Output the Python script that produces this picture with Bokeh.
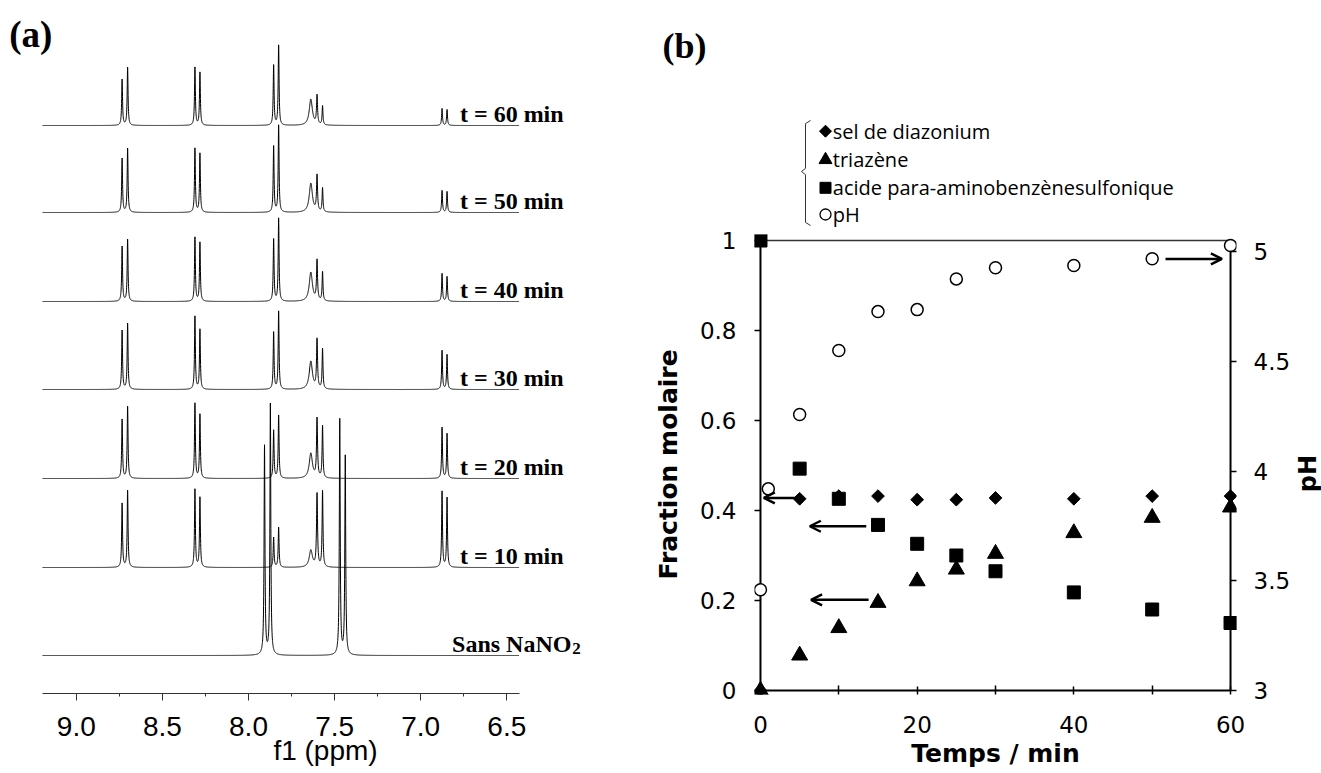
import numpy as np
from bokeh.plotting import figure
from bokeh.layouts import row, column
from bokeh.models import (Range1d, LinearAxis, FixedTicker, Arrow, OpenHead,
                          PrintfTickFormatter, CustomJSTickFormatter)
from bokeh.core.properties import value
from bokeh.embed import file_html
from bokeh.resources import INLINE

# ===================== DATA : panel (a) 1H NMR spectra =====================
# peak positions (ppm), half widths (ppm) and heights (arbitrary units)
PEAK_PPM = [8.734, 8.702, 8.311, 8.282, 7.854, 7.825, 7.638, 7.602, 7.570, 6.876, 6.847]
PEAK_HWHM = [0.003, 0.003, 0.003, 0.003, 0.003, 0.003, 0.011, 0.0035, 0.003, 0.003, 0.003]
SPEC_LABELS = ["t = 60 min", "t = 50 min", "t = 40 min", "t = 30 min", "t = 20 min", "t = 10 min"]
SPEC_OFFSET = [568, 481, 392, 304, 215, 126]
H_60 = [46, 58, 58, 53, 60, 80, 26, 29, 19, 17, 16]
H_50 = [54, 64, 64, 59, 66, 87, 29, 36, 24, 22, 21]
H_40 = [55, 62, 64, 59, 62, 83, 29, 40, 29, 28, 25]
H_30 = [59, 66, 73, 60, 57, 78, 28, 49, 40, 39, 35]
H_20 = [59, 72, 75, 64, 48, 63, 25, 59, 52, 51, 45]
H_10 = [64, 77, 78, 70, 30, 40, 17, 73, 76, 76, 70]
SPEC_HEIGHTS = [H_60, H_50, H_40, H_30, H_20, H_10]
SANS_LABEL = "Sans NaNO"
SANS_SUB = "2"
SANS_OFFSET = 38
SANS_PPM = [7.907, 7.873, 7.470, 7.438]
SANS_HWHM = [0.003, 0.003, 0.003, 0.003]
SANS_H = [209, 251, 237, 200]
PPM_TICKS = [9.0, 8.5, 8.0, 7.5, 7.0, 6.5]
PPM_MINOR = [8.75, 8.25, 7.75, 7.25, 6.75]
PPM_MIN, PPM_MAX = 6.429, 9.196

# ===================== DATA : panel (b) kinetics =====================
T_SAMPLES = [0, 5, 10, 15, 20, 25, 30, 40, 50, 60]
DIAZONIUM = [0.0, 0.426, 0.432, 0.432, 0.424, 0.424, 0.428, 0.426, 0.432, 0.432]
TRIAZENE = [0.0, 0.078, 0.139, 0.195, 0.243, 0.269, 0.304, 0.350, 0.384, 0.407]
ACIDE = [1.0, 0.493, 0.426, 0.368, 0.326, 0.300, 0.265, 0.218, 0.180, 0.150]
T_PH = [0, 1, 5, 10, 15, 20, 25, 30, 40, 50, 60]
PH = [3.459, 3.919, 4.258, 4.550, 4.727, 4.736, 4.876, 4.927, 4.937, 4.968, 5.028]
LEGEND_LABELS = ["sel de diazonium", "triazène", "acide para-aminobenzènesulfonique", "pH"]
T_TICKS = [0, 20, 40, 60]
T_MINOR = [10, 30, 50]
FRAC_TICKS = [0, 0.2, 0.4, 0.6, 0.8, 1]
PH_TICKS = [3, 3.5, 4, 4.5, 5]
# arrows: (x_start, y_start, x_end, y_end) in (min, fraction)
ARROWS = [(4.43, 0.428, 0.43, 0.428), (13.5, 0.365, 6.3, 0.365),
          (13.8, 0.2015, 6.46, 0.2015), (51.7, 0.959, 58.9, 0.959)]

# ===================== layout constants (pixels) =====================
W_A, W_B, W_C, H = 650, 643, 28, 773
H_LEG = 228                     # height of the strip above panel (b) holding "(b)" and the legend
SERIF = "Liberation Serif"


def no_align(fig):
    try:
        fig.frame_align = False
    except Exception:
        pass


# ---------------- panel (a) ----------------
PX_PER_PPM = 172.2
A_X9 = 75.8          # pixel position of the 9.0 ppm tick
A_AXIS_Y = 693       # pixel row of the ppm axis
xa0 = 9.0 + A_X9 / PX_PER_PPM
xa1 = xa0 - W_A / PX_PER_PPM
pa = figure(width=W_A, height=H, x_range=Range1d(xa0, xa1), y_range=Range1d(0, A_AXIS_Y),
            y_axis_location=None, toolbar_location=None, output_backend="svg",
            min_border_left=0, min_border_right=0, min_border_top=0,
            min_border_bottom=H - A_AXIS_Y, outline_line_color=None)
pa.grid.visible = False
no_align(pa)

ppm = np.linspace(PPM_MIN, PPM_MAX, 4500)


def spectrum(centres, hwhm, heights, offset):
    c = np.asarray(centres)[:, None]
    g = np.asarray(hwhm)[:, None]
    h = np.asarray(heights, dtype=float)[:, None]
    return offset + (h * g ** 2 / (g ** 2 + (ppm[None, :] - c) ** 2)).sum(axis=0)


for hts, off in zip(SPEC_HEIGHTS, SPEC_OFFSET):
    pa.line(ppm, spectrum(PEAK_PPM, PEAK_HWHM, hts, off), line_color="black", line_width=1)
pa.line(ppm, spectrum(SANS_PPM, SANS_HWHM, SANS_H, SANS_OFFSET), line_color="black", line_width=1)

LABEL_PPM = 6.772
pa.text(x=[LABEL_PPM] * len(SPEC_LABELS), y=[o + 12 for o in SPEC_OFFSET], text=SPEC_LABELS,
        text_font=value(SERIF), text_font_style="bold", text_font_size="24px",
        text_baseline="alphabetic", text_align="left", text_color="black")
pa.text(x=[6.818], y=[SANS_OFFSET + 12], text=[SANS_LABEL], text_font=value(SERIF),
        text_font_style="bold", text_font_size="24px", text_baseline="alphabetic", text_color="black")
pa.text(x=[6.12], y=[SANS_OFFSET + 7], text=[SANS_SUB], text_font=value(SERIF),
        text_font_style="bold", text_font_size="17px", text_baseline="alphabetic", text_color="black")
pa.text(x=[9.39], y=[A_AXIS_Y - 34], text=["(a)"], text_font=value(SERIF),
        text_font_style="bold", text_font_size="37px", text_baseline="middle", text_color="black")

ax = pa.xaxis[0]
ax.ticker = FixedTicker(ticks=PPM_TICKS, minor_ticks=PPM_MINOR)
ax.formatter = PrintfTickFormatter(format="%.1f")
ax.bounds = (PPM_MIN, PPM_MAX)
ax.major_tick_out, ax.major_tick_in = 7, 0
ax.minor_tick_out, ax.minor_tick_in = 3, 0
ax.axis_line_color = "#333333"
ax.major_tick_line_color = "#333333"
ax.minor_tick_line_color = "#333333"
ax.major_label_text_font = "Liberation Sans"
ax.major_label_text_font_size = "28px"
ax.major_label_text_color = "black"
ax.major_label_standoff = 16
ax.axis_label = "f1 (ppm)"
ax.axis_label_text_font = "Liberation Sans"
ax.axis_label_text_font_size = "28px"
ax.axis_label_text_font_style = "normal"
ax.axis_label_text_color = "black"
ax.axis_label_standoff = -4

# ---------------- panel (b) geometry ----------------
X_T0, X_T60 = 760.0 - W_A, 1232.0 - W_A     # pixel columns of t = 0 and t = 60 inside panel (b)
Y_F0, Y_F1 = 690.0, 240.0                   # page pixel rows of fraction 0 and 1
PX_PER_PH = 219.4
T_MIN, T_MAX, F_MIN, F_MAX, PH_MIN = 0, 60, 0.0, 1.0, 3.0
PX_PER_MIN = (X_T60 - X_T0) / (T_MAX - T_MIN)
PX_PER_FRAC = (Y_F0 - Y_F1) / (F_MAX - F_MIN)
PH_TOP = PH_MIN + (Y_F0 - Y_F1) / PX_PER_PH
FR_L, FR_R = 104, 588          # frame edges inside panel (b) (pixels)
FR_T, FR_B = 234, 694          # frame edges (page rows)


def t_at(px):
    return T_MIN + (px - X_T0) / PX_PER_MIN


def f_at(py):
    return F_MIN + (Y_F0 - py) / PX_PER_FRAC


# ---- strip above panel (b): panel letter and legend ----
pl = figure(width=W_B, height=H_LEG, x_range=Range1d(t_at(0), t_at(W_B)),
            y_range=Range1d(f_at(H_LEG), f_at(0)), x_axis_location=None, y_axis_location=None,
            toolbar_location=None, output_backend="svg", min_border=0,
            outline_line_color=None)
pl.grid.visible = False
no_align(pl)
pl.text(x=[-12.46], y=[1.4333], text=["(b)"], text_font=value(SERIF), text_font_style="bold",
        text_font_size="36px", text_baseline="middle", text_align="left", text_color="black")
LEG_X, LEG_TX = 8.263, 9.19
LEG_Y = [1.2429, 1.1793, 1.1171, 1.0578]
pl.scatter([LEG_X], [LEG_Y[0]], marker="square", angle=np.pi / 4, size=8.5,
           fill_color="black", line_color="black")
pl.scatter([LEG_X], [LEG_Y[1]], marker="triangle", size=13, fill_color="black", line_color="black")
pl.scatter([LEG_X], [LEG_Y[2]], marker="square", size=11, fill_color="black", line_color="black")
pl.scatter([LEG_X], [LEG_Y[3]], marker="circle", size=11, fill_color="white",
           line_color="black", line_width=1.3)
pl.text(x=[LEG_TX] * 4, y=LEG_Y, text=LEGEND_LABELS, text_font=value("Open Sans"),
        text_font_size="20px", text_baseline="middle", text_align="left", text_color="black")
BR_X, BR_XL, BR_XR = 5.720, 5.212, 6.356
BR_TOP, BR_MID, BR_BOT = 1.2667, 1.1533, 1.0333
pl.line([BR_XR, BR_X, BR_X, BR_XL, BR_X, BR_X, BR_XR],
        [BR_TOP, BR_TOP - 0.007, BR_MID + 0.007, BR_MID, BR_MID - 0.007, BR_BOT + 0.007, BR_BOT],
        line_color="#333333", line_width=1)

# ---- panel (b) plot ----
pb = figure(width=W_B, height=H - H_LEG,
            x_range=Range1d(t_at(FR_L), t_at(FR_R)),
            y_range=Range1d(f_at(FR_B), f_at(FR_T)),
            toolbar_location=None, output_backend="svg",
            min_border_left=FR_L, min_border_right=W_B - FR_R, min_border_top=FR_T - H_LEG,
            min_border_bottom=H - FR_B, outline_line_color=None)
pb.grid.visible = False
no_align(pb)
pb.extra_y_ranges = {"ph": Range1d(PH_MIN - (FR_B - Y_F0) / PX_PER_PH,
                                   PH_MIN + (Y_F0 - FR_T) / PX_PER_PH)}

TICK_FONT = "DejaVu Sans"
TITLE_FONT = "DejaVu Sans"
fmt = CustomJSTickFormatter(code="return tick.toString()")


def style_axis(a):
    a.axis_line_color = None
    a.major_tick_line_color = "black"
    a.minor_tick_line_color = "black"
    a.major_tick_line_width = 1.5
    a.minor_tick_line_width = 1.5
    a.major_label_text_font = TICK_FONT
    a.major_label_text_font_size = "23px"
    a.major_label_text_color = "black"
    a.axis_label_text_font = TITLE_FONT
    a.axis_label_text_font_size = "25px"
    a.axis_label_text_font_style = "bold"
    a.axis_label_text_color = "black"


ly = pb.yaxis[0]
style_axis(ly)
ly.bounds = (F_MIN, F_MAX)
ly.ticker = FixedTicker(ticks=FRAC_TICKS)
ly.formatter = fmt
ly.major_tick_out, ly.major_tick_in = 0, int(X_T0 - FR_L)
ly.minor_tick_out, ly.minor_tick_in = 0, 0
ly.major_label_standoff = 18
ly.axis_label = "Fraction molaire"
ly.axis_label_standoff = 14

bx = pb.xaxis[0]
style_axis(bx)
bx.bounds = (T_MIN, T_MAX)
bx.ticker = FixedTicker(ticks=T_TICKS, minor_ticks=T_MINOR)
bx.formatter = fmt
bx.major_tick_out, bx.major_tick_in = 0, int(FR_B - Y_F0) + 4
bx.minor_tick_out, bx.minor_tick_in = 0, int(FR_B - Y_F0) + 5
bx.major_label_standoff = 21
bx.axis_label = "Temps / min"
bx.axis_label_standoff = 3

ry = LinearAxis(y_range_name="ph", bounds=(PH_MIN, PH_TOP),
                ticker=FixedTicker(ticks=PH_TICKS), formatter=fmt)
style_axis(ry)
ry.major_tick_out, ry.major_tick_in = 0, int(FR_R - X_T60)
ry.minor_tick_out, ry.minor_tick_in = 0, 0
ry.major_label_standoff = 17
pb.add_layout(ry, "right")

# the plot box (axis lines at t = 0, t = 60 and fraction 0; thin border at fraction 1)
pb.segment(x0=[T_MIN, T_MAX, T_MIN], y0=[F_MIN, F_MIN, F_MIN],
           x1=[T_MIN, T_MAX, T_MAX], y1=[F_MAX, F_MAX, F_MIN], line_color="black", line_width=2)
pb.segment(x0=[T_MIN], y0=[F_MAX], x1=[T_MAX], y1=[F_MAX], line_color="#333333", line_width=1.3)

# data series
pb.scatter(T_PH, PH, y_range_name="ph", marker="circle", size=12, fill_color="white",
           line_color="black", line_width=1.5)
pb.scatter(T_SAMPLES, ACIDE, marker="square", size=13, fill_color="black", line_color="black")
pb.scatter(T_SAMPLES, DIAZONIUM, marker="square", angle=np.pi / 4, size=9,
           fill_color="black", line_color="black")
pb.scatter(T_SAMPLES, TRIAZENE, marker="triangle", size=16, fill_color="black", line_color="black")

for xs, ys, xe, ye in ARROWS:
    pb.add_layout(Arrow(end=OpenHead(size=11, line_width=2.5, line_color="black"),
                        x_start=xs, y_start=ys, x_end=xe, y_end=ye,
                        line_width=2.5, line_color="black"))

# ---- right strip: title of the pH axis ----
pc = figure(width=W_C, height=H, x_range=Range1d(0, W_C), y_range=Range1d(0, H),
            x_axis_location=None, y_axis_location=None, toolbar_location=None,
            output_backend="svg", min_border=0, outline_line_color=None)
pc.grid.visible = False
no_align(pc)
pc.text(x=[W_C / 2], y=[H - 473], text=["pH"], angle=np.pi / 2, text_font=value(TITLE_FONT),
        text_font_style="bold", text_font_size="24px", text_align="center",
        text_baseline="middle", text_color="black")

layout = row(pa, column(pl, pb), pc)
open("out.html", "w").write(file_html(layout, INLINE))
